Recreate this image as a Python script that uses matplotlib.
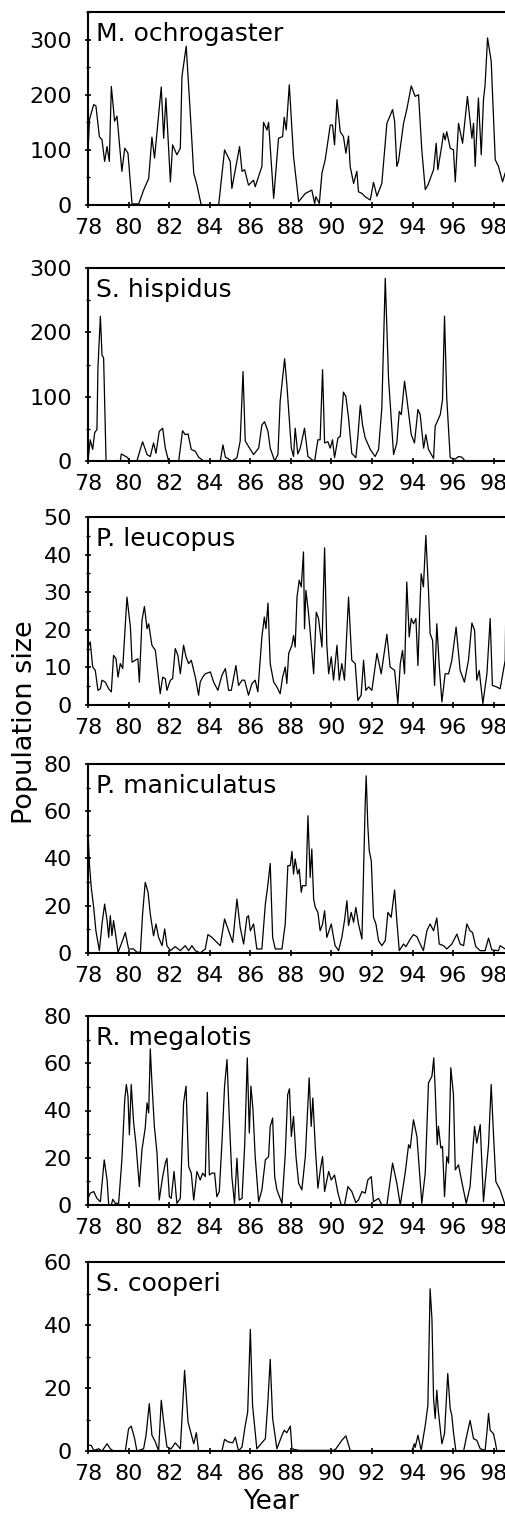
import matplotlib
matplotlib.use("Agg")
import matplotlib.pyplot as plt
from matplotlib.ticker import MultipleLocator

# ---- data ----
species = ["M. ochrogaster", "S. hispidus", "P. leucopus",
           "P. maniculatus", "R. megalotis", "S. cooperi"]

years_moch = [78.00, 78.07, 78.28, 78.39, 78.56, 78.69, 78.82, 78.94, 79.05, 79.15,
              79.31, 79.43, 79.67, 79.81, 79.97, 80.17, 80.50, 80.74, 80.99, 81.15,
              81.28, 81.61, 81.73, 81.84, 82.06, 82.17, 82.38, 82.55, 82.63, 82.84,
              83.04, 83.21, 83.37, 83.58, 84.44, 84.73, 85.01, 85.09, 85.47, 85.59,
              85.72, 85.91, 86.16, 86.24, 86.57, 86.65, 86.82, 86.90, 87.15, 87.39,
              87.59, 87.67, 87.77, 87.92, 88.13, 88.38, 88.71, 89.03, 89.17, 89.23,
              89.40, 89.53, 89.69, 89.94, 90.05, 90.15, 90.27, 90.43, 90.59, 90.71,
              90.84, 90.92, 91.09, 91.25, 91.33, 91.50, 91.66, 91.91, 92.07, 92.24,
              92.48, 92.73, 93.01, 93.11, 93.22, 93.30, 93.55, 93.71, 93.93, 94.12,
              94.29, 94.45, 94.62, 94.75, 95.03, 95.16, 95.24, 95.44, 95.52, 95.60,
              95.68, 95.85, 96.01, 96.10, 96.26, 96.46, 96.70, 96.92, 97.00, 97.08,
              97.24, 97.38, 97.49, 97.57, 97.69, 97.87, 98.07, 98.23, 98.43, 98.56]
count_moch = [94, 155, 182, 180, 124, 118, 79, 106, 79, 215,
              152, 161, 61, 103, 94, 2, 2, 27, 48, 123,
              85, 214, 121, 194, 42, 109, 91, 103, 233, 288,
              167, 58, 36, 0, 0, 100, 79, 30, 106, 61,
              64, 36, 45, 33, 70, 150, 136, 150, 12, 121,
              124, 159, 136, 218, 88, 6, 21, 27, 3, 15,
              3, 58, 82, 145, 145, 109, 191, 133, 124, 94,
              125, 70, 39, 61, 24, 21, 15, 9, 41, 16,
              39, 148, 173, 152, 70, 79, 148, 173, 216, 197,
              200, 100, 28, 36, 64, 112, 64, 109, 130, 118,
              133, 103, 100, 42, 148, 112, 197, 121, 148, 70,
              194, 91, 191, 218, 303, 261, 82, 70, 42, 58]

years_shis = [78.00, 78.11, 78.23, 78.33, 78.44, 78.49, 78.61, 78.69, 78.77, 78.89,
              79.59, 79.64, 79.92, 80.09, 80.41, 80.69, 80.91, 81.07, 81.23, 81.35,
              81.51, 81.68, 81.81, 81.97, 82.47, 82.66, 82.79, 82.93, 83.09, 83.29,
              83.45, 83.70, 84.52, 84.65, 84.77, 85.09, 85.34, 85.50, 85.64, 85.75,
              86.00, 86.16, 86.41, 86.57, 86.70, 86.87, 86.98, 87.20, 87.36, 87.47,
              87.69, 87.80, 88.02, 88.13, 88.21, 88.34, 88.46, 88.67, 88.84, 89.03,
              89.17, 89.33, 89.44, 89.56, 89.66, 89.82, 89.94, 90.05, 90.15, 90.32,
              90.43, 90.59, 90.71, 90.84, 91.00, 91.20, 91.30, 91.42, 91.53, 91.66,
              91.91, 92.15, 92.32, 92.48, 92.65, 92.81, 93.06, 93.22, 93.34, 93.44,
              93.60, 93.71, 93.93, 94.09, 94.26, 94.37, 94.54, 94.65, 94.78, 95.03,
              95.11, 95.36, 95.47, 95.57, 95.68, 95.85, 96.10, 96.26, 96.42, 96.59,
              98.56]
count_shis = [0, 33, 18, 44, 49, 145, 225, 165, 160, 0,
              0, 11, 6, 0, 0, 30, 10, 7, 28, 12,
              46, 51, 20, 0, 0, 47, 41, 42, 18, 15,
              6, 0, 0, 25, 6, 0, 5, 31, 139, 31,
              18, 10, 20, 56, 61, 46, 20, 0, 10, 93,
              159, 119, 20, 7, 51, 11, 20, 51, 7, 2,
              0, 33, 33, 142, 28, 30, 20, 33, 5, 36,
              38, 107, 100, 67, 12, 5, 38, 87, 56, 36,
              18, 7, 18, 82, 284, 129, 10, 28, 77, 72,
              124, 98, 41, 28, 80, 72, 20, 41, 18, 4,
              54, 72, 95, 225, 98, 5, 3, 7, 6, 0,
              0]

years_pleu = [78.00, 78.11, 78.23, 78.36, 78.49, 78.61, 78.69, 78.85, 79.02, 79.15,
              79.26, 79.38, 79.48, 79.59, 79.71, 79.92, 80.09, 80.17, 80.33, 80.46,
              80.53, 80.66, 80.78, 80.91, 80.99, 81.15, 81.32, 81.45, 81.56, 81.68,
              81.81, 81.89, 82.06, 82.17, 82.30, 82.43, 82.55, 82.71, 82.83, 82.96,
              83.09, 83.29, 83.45, 83.53, 83.65, 83.78, 84.03, 84.19, 84.40, 84.60,
              84.77, 84.93, 85.06, 85.29, 85.42, 85.59, 85.72, 85.91, 86.08, 86.24,
              86.37, 86.57, 86.69, 86.77, 86.87, 86.98, 87.15, 87.31, 87.47, 87.59,
              87.72, 87.80, 87.89, 88.05, 88.13, 88.21, 88.30, 88.41, 88.51, 88.62,
              88.67, 88.74, 88.87, 89.00, 89.12, 89.25, 89.36, 89.53, 89.66, 89.77,
              89.86, 89.99, 90.10, 90.27, 90.38, 90.51, 90.64, 90.84, 91.00, 91.17,
              91.30, 91.46, 91.58, 91.69, 91.83, 91.99, 92.24, 92.45, 92.73, 92.89,
              93.11, 93.27, 93.39, 93.50, 93.60, 93.71, 93.83, 93.93, 94.04, 94.16,
              94.26, 94.34, 94.42, 94.53, 94.65, 94.78, 94.86, 94.98, 95.08, 95.19,
              95.31, 95.44, 95.60, 95.77, 95.93, 96.14, 96.34, 96.55, 96.75, 96.92,
              97.05, 97.16, 97.28, 97.46, 97.66, 97.82, 97.93, 98.15, 98.31, 98.43,
              98.56, 98.60]
count_pleu = [15.4, 16.8, 10.1, 9.2, 3.9, 4.3, 6.6, 6.1, 4.3, 3.5,
              13.2, 12.3, 7.4, 11, 9.7, 28.7, 20.7, 11.4, 11.9, 12.3,
              6.1, 22.5, 26.2, 20.3, 21.6, 15.9, 14.5, 8.3, 3, 7.4,
              7, 3.9, 6.6, 7, 15, 13.2, 8.3, 15.9, 12.8, 11,
              11.9, 7.4, 2.6, 6.1, 7.4, 8.3, 8.8, 6.1, 3.9, 7.9,
              9.7, 3.9, 3.9, 10.5, 5.2, 6.6, 6.6, 2.6, 5.7, 6.6,
              3.5, 18.1, 23.4, 20.3, 27.1, 11, 6.1, 4.8, 3, 7.4,
              10.1, 5.7, 13.7, 15.9, 18.5, 15.4, 28.7, 33.2, 31.4, 40.7,
              20.3, 30.5, 24.3, 16.3, 8.3, 24.7, 23, 15.4, 41.8, 15.9,
              8.3, 12.8, 6.6, 15.9, 6.6, 11, 6.6, 28.7, 11.9, 11,
              1.2, 2.6, 11.9, 3.9, 4.8, 3.9, 13.7, 8.3, 18.8, 10.1,
              9.2, 0.4, 11, 14.5, 8.3, 32.7, 18.1, 23, 21.6, 23,
              10.5, 23.4, 34.9, 31.4, 45.1, 30.5, 19, 17.2, 5.2, 21.6,
              10.5, 0.8, 8.3, 8.3, 11.9, 20.7, 9.2, 6.1, 11.9, 21.8,
              19.9, 6.6, 9.2, 0.4, 8.3, 23, 5.2, 4.8, 4.3, 7.9,
              11.9, 30]

years_pman = [78.00, 78.07, 78.16, 78.28, 78.39, 78.56, 78.69, 78.82, 78.94, 79.02,
              79.10, 79.18, 79.26, 79.38, 79.48, 79.67, 79.84, 80.00, 80.25, 80.41,
              80.58, 80.69, 80.82, 80.96, 81.07, 81.23, 81.35, 81.48, 81.65, 81.78,
              81.89, 82.06, 82.30, 82.55, 82.79, 82.96, 83.12, 83.29, 83.53, 83.78,
              83.91, 84.11, 84.35, 84.52, 84.73, 84.93, 85.13, 85.34, 85.50, 85.67,
              85.83, 85.91, 86.00, 86.16, 86.32, 86.57, 86.74, 86.87, 86.98, 87.10,
              87.23, 87.56, 87.72, 87.85, 87.97, 88.05, 88.13, 88.21, 88.33, 88.41,
              88.51, 88.57, 88.74, 88.84, 88.95, 89.03, 89.12, 89.20, 89.33, 89.44,
              89.56, 89.66, 89.77, 89.99, 90.10, 90.18, 90.35, 90.51, 90.64, 90.76,
              90.84, 90.97, 91.09, 91.20, 91.33, 91.50, 91.66, 91.71, 91.79, 91.86,
              91.96, 92.07, 92.19, 92.32, 92.48, 92.65, 92.78, 92.94, 93.11, 93.22,
              93.34, 93.55, 93.67, 93.88, 94.04, 94.21, 94.37, 94.53, 94.70, 94.86,
              95.03, 95.19, 95.31, 95.52, 95.68, 95.93, 96.18, 96.34, 96.51, 96.67,
              96.83, 96.95, 97.11, 97.33, 97.57, 97.74, 97.90, 98.23, 98.31, 98.56]
count_pman = [51.8, 37.7, 27.8, 19.3, 9.4, 1, 12.3, 20.7, 13.7, 6.6,
              15.8, 7.3, 13.7, 6.6, 0.3, 4.5, 8.7, 1.7, 1.7, 0.3,
              0.3, 16.5, 29.9, 25.7, 16.5, 7.3, 12.3, 6.6, 3.1, 10.2,
              3.1, 1, 2.7, 1, 3.1, 1, 3.1, 1, 0, 1.7,
              7.8, 6.6, 4.5, 3.1, 14.4, 9.4, 4.5, 22.8, 10.9, 3.8,
              15.1, 15.8, 9.4, 12.3, 1.7, 1.7, 20.7, 29.2, 37.9, 6.6,
              1.7, 1.7, 12.3, 37, 37, 43, 33.4, 39.8, 33.4, 35.5,
              25.7, 28.5, 28.5, 58.1, 32, 44, 22.8, 19.3, 17.2, 9.4,
              12.3, 17.9, 6.6, 12.3, 6.6, 3.1, 1, 6.6, 13.7, 22.1,
              11.6, 17.2, 13, 19.3, 12.3, 5.9, 63, 75, 53.9, 43.3,
              39.1, 15.1, 12.3, 5.2, 3.1, 5.2, 17.2, 15.1, 26.7, 13.7,
              1, 3.8, 2.7, 5.9, 7.8, 6.9, 3.8, 1, 9.4, 12.3,
              9.4, 14.8, 3.8, 3.1, 1.7, 3.8, 8, 3.8, 3.1, 12.3,
              9.4, 8.7, 2.7, 1, 1, 6.3, 1.3, 1, 3.1, 1.7]

years_rmeg = [78.00, 78.11, 78.28, 78.44, 78.61, 78.80, 78.94, 79.02, 79.15, 79.22,
              79.35, 79.51, 79.67, 79.81, 79.89, 79.97, 80.04, 80.13, 80.25, 80.36,
              80.53, 80.66, 80.82, 80.91, 80.99, 81.07, 81.15, 81.27, 81.40, 81.51,
              81.68, 81.81, 81.89, 82.01, 82.10, 82.24, 82.38, 82.55, 82.71, 82.83,
              82.96, 83.09, 83.21, 83.37, 83.53, 83.65, 83.78, 83.88, 83.98, 84.11,
              84.24, 84.35, 84.47, 84.60, 84.73, 84.85, 84.96, 85.09, 85.22, 85.34,
              85.45, 85.59, 85.72, 85.85, 85.95, 86.03, 86.13, 86.24, 86.41, 86.57,
              86.74, 86.90, 86.98, 87.10, 87.20, 87.31, 87.56, 87.72, 87.84, 87.93,
              88.02, 88.13, 88.25, 88.38, 88.54, 88.71, 88.90, 89.00, 89.08, 89.20,
              89.33, 89.46, 89.56, 89.66, 89.86, 89.99, 90.15, 90.32, 90.48, 90.64,
              90.81, 91.00, 91.20, 91.33, 91.50, 91.66, 91.79, 91.96, 92.07, 92.32,
              92.48, 92.73, 93.01, 93.22, 93.39, 93.63, 93.80, 93.88, 94.04, 94.21,
              94.45, 94.62, 94.78, 94.95, 95.04, 95.11, 95.21, 95.27, 95.39, 95.47,
              95.57, 95.68, 95.77, 95.88, 96.01, 96.10, 96.26, 96.42, 96.64, 96.83,
              97.05, 97.16, 97.33, 97.49, 97.74, 97.87, 97.98, 98.10, 98.31, 98.53]
count_rmeg = [2.8, 5, 5.7, 2.8, 1.4, 19.1, 10.6, 0, 0, 2.4,
              0.7, 0.7, 19.1, 44.6, 51, 46, 29.7, 51, 34.7, 26.2,
              7.8, 23.4, 32.6, 43.2, 39, 66.1, 51.7, 33.3, 22, 2.1,
              12, 17.7, 19.8, 3.5, 2.8, 14.2, 0.7, 2.8, 43.2, 50.3,
              16.3, 13.5, 2.1, 14.2, 10.6, 13.5, 12, 47.7, 12.7, 13.5,
              13.5, 3.5, 5.7, 26.2, 50.3, 61.6, 37.5, 12, 0.7, 19.8,
              2.1, 2.8, 24.8, 62.3, 30.5, 50.3, 40.4, 20.5, 1.4, 6.4,
              19.1, 20.5, 33.3, 36.8, 12, 6.4, 0.7, 21.2, 46.7, 49.2,
              29, 37.5, 20.5, 9.2, 6.4, 20.5, 53.8, 33.3, 45.3, 24.8,
              7.1, 15.6, 20.5, 5.7, 14.2, 10.6, 12.7, 5, 0, 0,
              7.8, 5.7, 1, 2.1, 5.7, 5, 10.6, 12, 1.4, 2.8,
              0, 0, 17.7, 9.2, 0, 13.5, 25.5, 24.1, 36.1, 29,
              0.7, 13.5, 51.7, 54.5, 62.3, 48.9, 25.5, 33.3, 24.1, 24.8,
              3.5, 20.5, 17.7, 58.1, 46.7, 14.9, 17, 9.9, 0.7, 7.8,
              33.3, 26.2, 34, 1.4, 25.5, 51, 30.5, 9.9, 6.4, 0.7]

years_scoo = [78.00, 78.16, 78.28, 78.53, 78.69, 78.94, 79.10, 79.26, 79.84, 80.00,
              80.13, 80.30, 80.41, 80.74, 80.86, 81.02, 81.15, 81.32, 81.48, 81.61,
              81.73, 81.89, 82.10, 82.30, 82.55, 82.76, 82.93, 83.21, 83.34, 83.45,
              84.60, 84.73, 84.90, 85.13, 85.26, 85.42, 85.59, 85.75, 85.87, 86.00,
              86.11, 86.32, 86.74, 86.87, 86.98, 87.10, 87.31, 87.56, 87.67, 87.80,
              87.97, 88.05, 88.38, 90.10, 90.22, 90.51, 90.71, 90.92, 91.17, 93.96,
              94.08, 94.12, 94.26, 94.42, 94.62, 94.75, 94.86, 94.95, 95.03, 95.11,
              95.19, 95.27, 95.44, 95.57, 95.73, 95.85, 95.93, 96.01, 96.13, 96.51,
              96.67, 96.83, 97.00, 97.16, 97.33, 97.57, 97.66, 97.74, 97.82, 97.98,
              98.07, 98.15, 98.56]
count_scoo = [1.8, 1.8, 0.2, 0.7, 0, 2.3, 0.7, 0, 0, 7.1,
              7.9, 3.9, 0, 0.7, 5, 15, 5, 2.9, 0, 16.1,
              9.2, 1.3, 0.7, 2.6, 0.7, 25.6, 9.2, 2.3, 5.8, 0,
              0, 3.7, 2.9, 2.6, 4.4, 0, 1.3, 8.1, 12.4, 38.6,
              14.5, 0.7, 3.9, 16.1, 29.1, 10.3, 0.7, 5, 6.6, 5.8,
              7.9, 0.7, 0.2, 0.2, 0.7, 3.4, 4.8, 0.2, 0, 0,
              2.3, 1.1, 5, 0.2, 8.1, 14.5, 51.5, 42, 16.6, 10.3,
              19.3, 12.4, 2.3, 5.5, 24.6, 13.4, 11.3, 6, 0, 0,
              5, 9.7, 3.9, 3.4, 0.7, 0.2, 6, 11.9, 6.6, 5.5,
              2.9, 0, 0]

series = [(years_moch, count_moch), (years_shis, count_shis), (years_pleu, count_pleu),
          (years_pman, count_pman), (years_rmeg, count_rmeg), (years_scoo, count_scoo)]

y_max = [350, 300, 50, 80, 80, 60]
y_major = [100, 100, 10, 20, 20, 20]
y_minor = [50, 50, 5, 10, 10, 10]
year_ticks = list(range(78, 100, 2))
year_labels = [str(y) for y in year_ticks]

# ---- layout (pixel rows of each panel in a 506 x 1516 figure) ----
W, H = 506, 1516
panel_top = [12, 268, 517, 764, 1016, 1262]
panel_bot = [205, 461, 705, 953, 1205, 1451]
left_px = 88

fig = plt.figure(figsize=(W / 100, H / 100), dpi=100)

for i, name in enumerate(species):
    ax = fig.add_axes([left_px / W, 1 - panel_bot[i] / H,
                       (W - left_px) / W, (panel_bot[i] - panel_top[i]) / H])
    yrs, vals = series[i]
    ax.plot(yrs, vals, color="black", lw=0.9)

    ax.set_xlim(78, 98.6)
    ax.set_ylim(0, y_max[i])
    ax.set_xticks(year_ticks)
    ax.set_xticklabels(year_labels)
    ax.yaxis.set_major_locator(MultipleLocator(y_major[i]))
    ax.yaxis.set_minor_locator(MultipleLocator(y_minor[i]))

    ax.spines["right"].set_visible(False)
    for s in ("left", "bottom", "top"):
        ax.spines[s].set_linewidth(1.5)

    ax.tick_params(axis="both", which="major", direction="inout",
                   length=5, width=1.2, labelsize=16)
    ax.tick_params(axis="both", which="minor", direction="inout",
                   length=3.5, width=1.0)
    ax.tick_params(axis="y", which="major", pad=9)
    ax.tick_params(axis="x", which="major", pad=7)
    ax.tick_params(top=False, right=False, which="both")

    ax.annotate(name, xy=(0, 1), xycoords="axes fraction",
                xytext=(6, -7), textcoords="offset points",
                ha="left", va="top", fontsize=18)

fig.text(25 / W, 1 - 722 / H, "Population size", rotation=90,
         ha="center", va="center", fontsize=19.5)
fig.text(271 / W, 1 - 1489 / H, "Year", ha="center", va="top", fontsize=19)

fig.savefig("out.png", dpi=100)
